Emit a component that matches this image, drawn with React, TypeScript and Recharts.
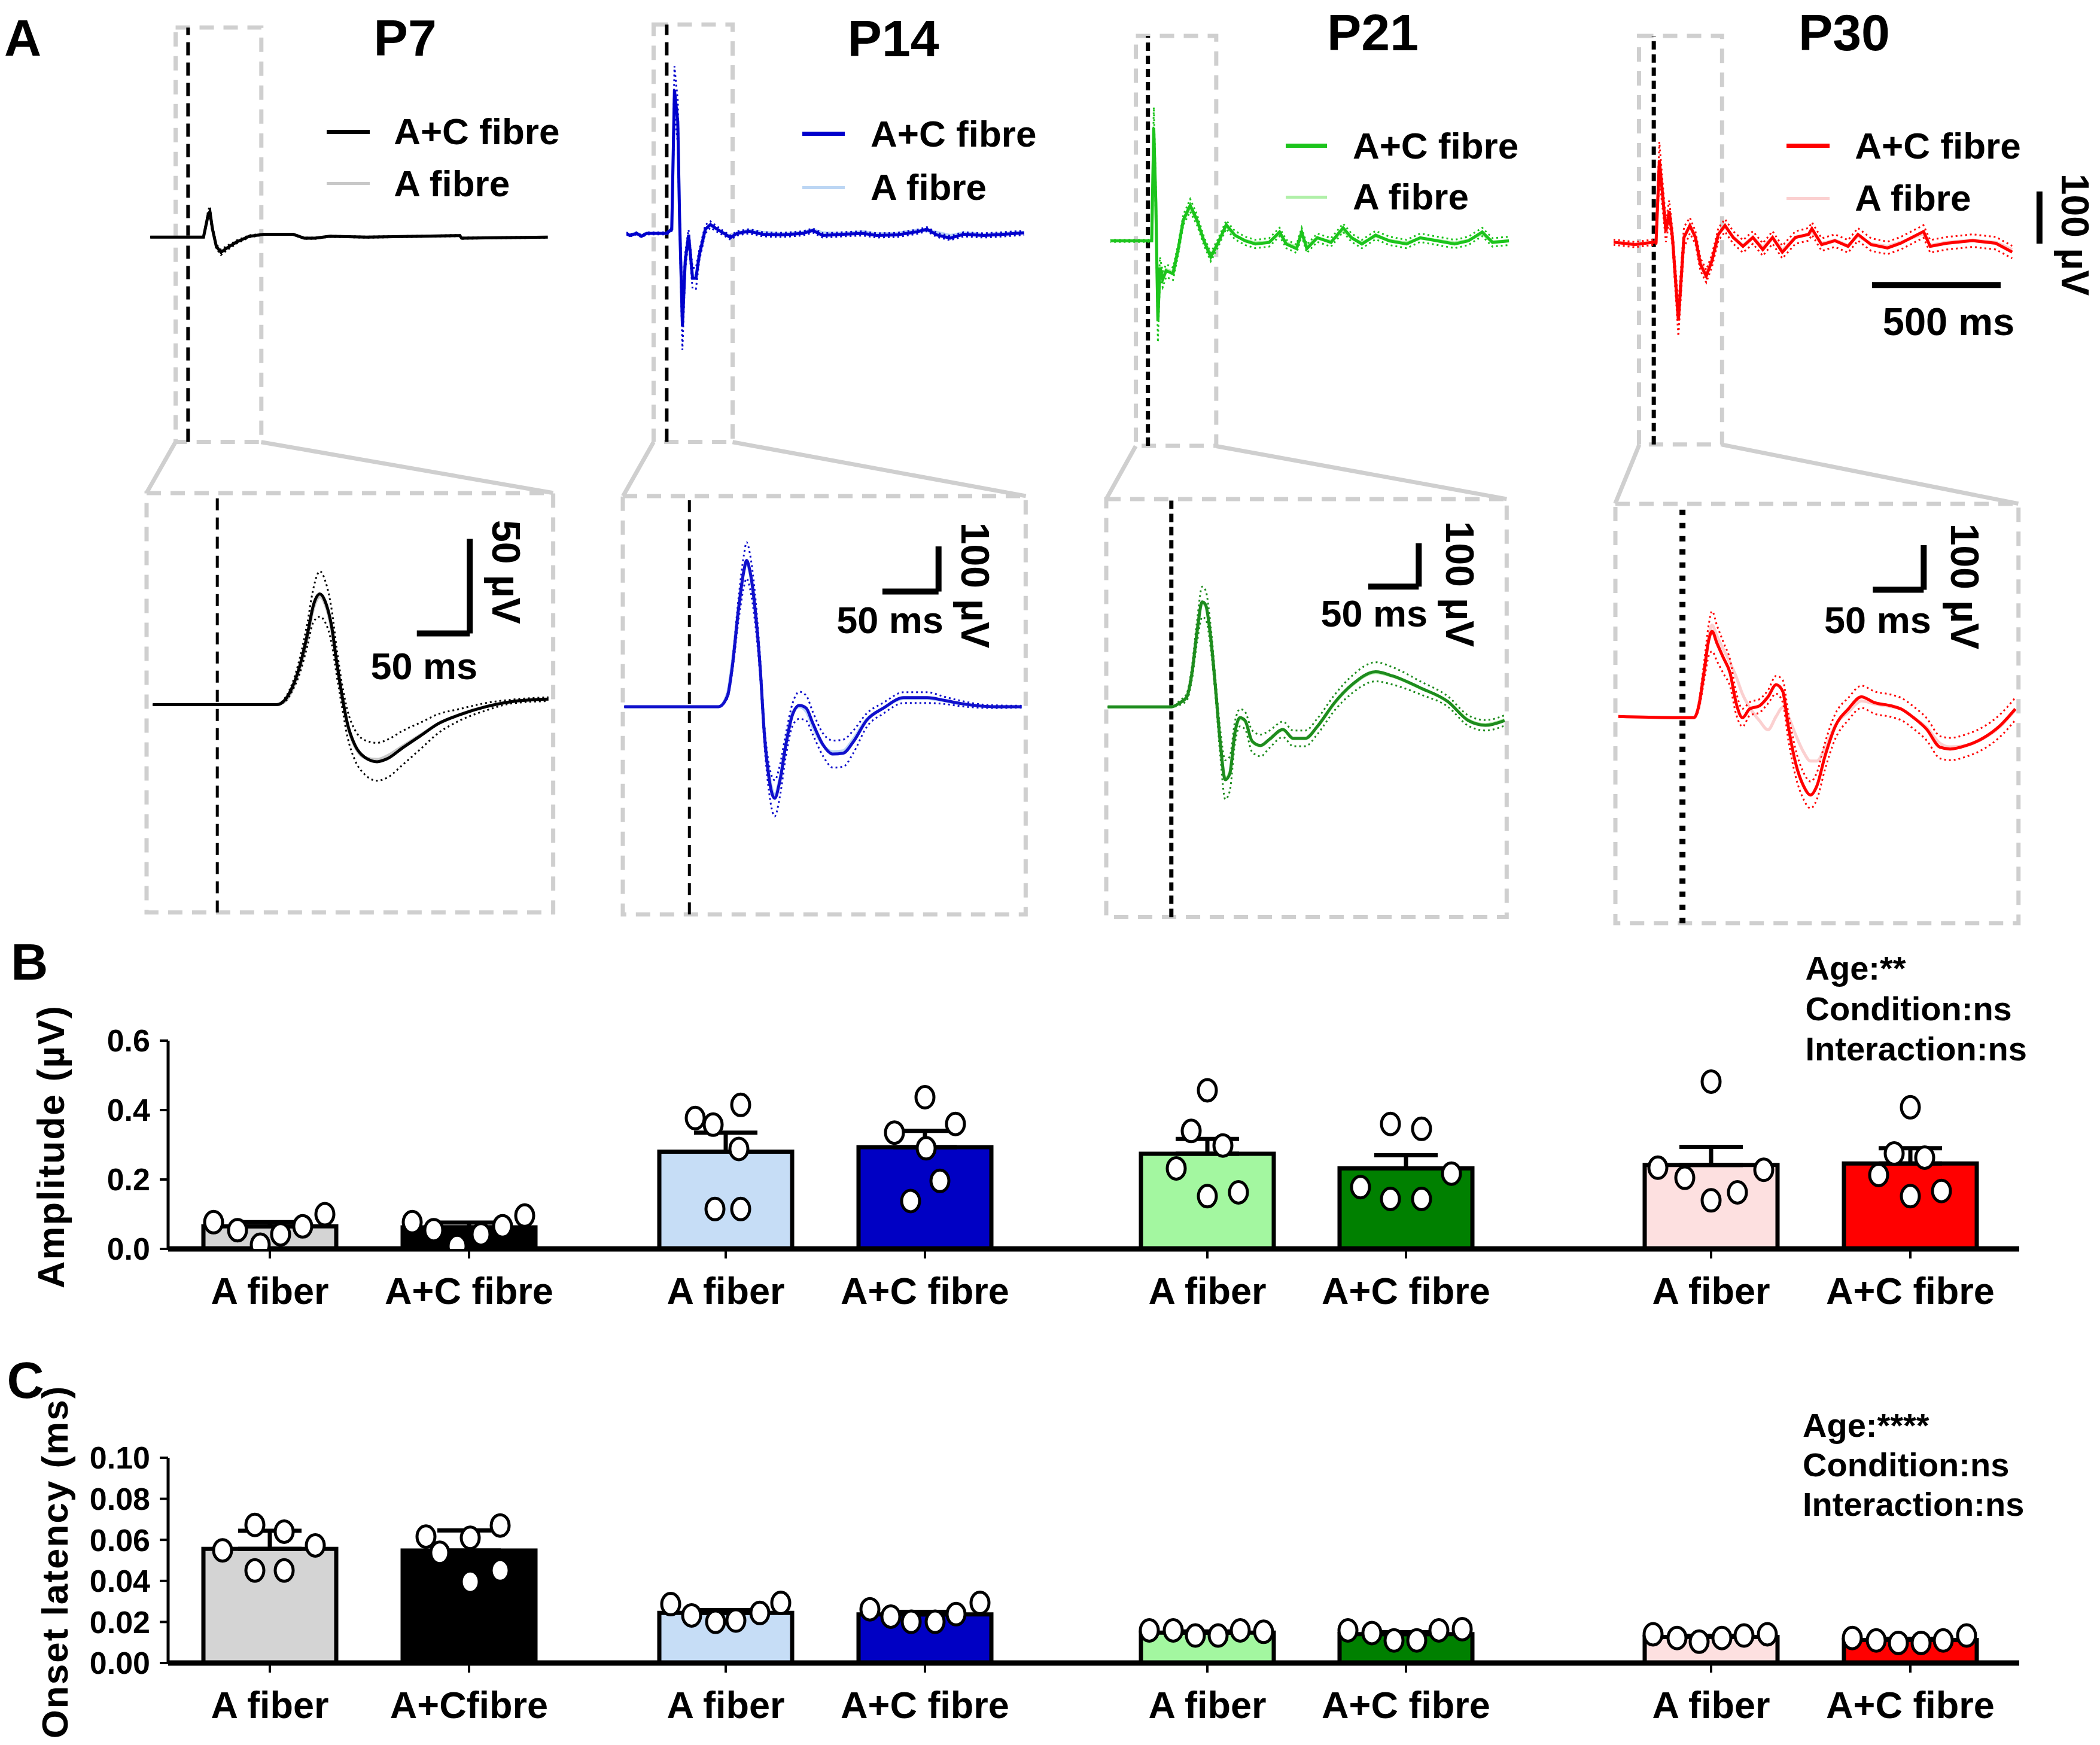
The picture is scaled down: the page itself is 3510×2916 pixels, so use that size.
import React from "react";
import {
  LineChart,
  Line,
  XAxis,
  YAxis,
  ReferenceLine,
  ReferenceArea,
  ComposedChart,
  ScatterChart,
  Bar,
  Cell,
  ErrorBar,
  Scatter,
} from "recharts";

// layout was measured on the 1568px-wide preview, scaled up here
const S = 3510 / 1568;
const FONT = '"Liberation Sans", Arial, Helvetica, sans-serif';

// ---------- A: averaged CAP traces (ms from stimulus, µV) ----------
const AGES = ["P7", "P14", "P21", "P30"];
const LEGEND = ["A+C fibre", "A fibre"];

// overview traces
const P7_TOP_T = [-147, 0, 60, 78, 85, 95, 110, 128, 152, 188, 238, 295, 409, 452, 494, 551, 694, 1057, 1064, 1399];
const P7_TOP_AC = [0, 0, 0, 43, 49, 15.5, -18, -29, -20.5, -9.4, 1.7, 5.5, 5.5, -2, -2, 1.7, 0, 3, -2, 0];
const P7_TOP_SEM = [0, 0, 0, 8, 10, 5, 4, 5, 4, 3, 2, 1, 1, 1, 1, 1, 1, 1, 1, 1];
const P7_TOP_A = [0, 0, 0, 40, 46, 14, -17, -28, -20, -9, 1.5, 5, 5, -2, -2, 1.5, 0, 3, -2, 0];

const P14_TOP_T = [-157, -144, -117, -98, -78, 0, 19.6, 30, 43, 50, 61, 72, 85, 100.5, 113.6, 126.6, 150, 170, 196, 222, 248, 274, 320, 372, 450, 529, 568, 607, 685, 764, 816, 894, 973, 1012, 1051, 1103, 1155, 1233, 1312, 1390];
const P14_TOP_AC = [0, -4, 0, -5.5, 0, 0, 8, 275, 214, 30, -178, -53, -3, -86, -86, -42, 8, 17, 8, 0, -8, 0, 4, -1.7, -3, 0, 5.5, -4, -1.7, 0, -4, -3, 3, 8, -3, -9, -1.7, -4, -1.7, 1];
const P14_TOP_SEM = [2, 2, 2, 2, 2, 2, 3, 45, 40, 20, 45, 15, 10, 20, 20, 10, 8, 6, 5, 4, 4, 4, 4, 4, 4, 4, 4, 4, 4, 4, 4, 4, 4, 4, 4, 4, 4, 4, 4, 4];
const P14_TOP_A = [0, -3, 1, -4, 0, 0, 7, 260, 205, 28, -170, -50, -2, -80, -82, -40, 7, 15, 7, 1, -6, 1, 6, 2, -1, 2, 7, 1, 0, 3, -1, 0, 6, 5, 2, -4, 1, -2, 0, 2];

const P21_TOP_T = [-150, 0, 14.7, 22.7, 30.7, 38.7, 46.7, 57.4, 70.8, 97.5, 117.5, 137.6, 164.3, 191, 217.7, 244.4, 271, 304.5, 337.9, 378, 418, 471.5, 512, 538, 578, 598, 618, 658.5, 712, 759, 792, 832, 885.5, 939, 1006, 1059, 1126, 1193, 1246, 1300, 1340, 1404];
const P21_TOP_AC = [0, 0, 0, 216, 74, -154, -51, -74, -57, -63, -17, 40, 68, 40, 0, -31, -6, 31, 11, 0, -6, -3, 17, -6, -15, 17, -15, 6, -3, 25, 6, -6, 11, 0, -6, 6, 0, -6, 0, 17, -3, 0];
const P21_TOP_SEM = [2, 2, 3, 40, 30, 40, 20, 15, 12, 12, 10, 10, 12, 10, 8, 8, 8, 8, 8, 8, 8, 8, 8, 8, 8, 8, 8, 8, 8, 8, 8, 8, 8, 8, 8, 8, 8, 8, 8, 8, 8, 8];
const P21_TOP_A = [0, 0, 0, 205, 70, -145, -48, -70, -55, -60, -15, 38, 65, 38, 1, -28, -5, 29, 10, 1, -4, -2, 14, -4, -12, 14, -12, 5, -1, 20, 5, -4, 9, 1, -4, 5, 1, -4, 1, 14, -2, 0];

const P30_TOP_T = [-157, -74, 0, 9, 21.7, 34.5, 47.2, 60, 72.7, 95.7, 117.4, 140.4, 162, 181, 204, 226, 251, 277, 309, 347, 385.5, 424, 462, 500, 551, 602, 615, 653, 704.5, 755.6, 794, 845, 909, 960, 1049, 1075, 1138.5, 1240.6, 1330, 1394];
const P30_TOP_AC = [0, -4.6, 0, 0, 157, 89, 20.5, 60, 9, -150, 9, 32, 9, -42, -65, -36, 15, 32, 9, -8, 9, -14, 9, -19, 9, 15, 26, -4.6, 3, -8, 15, -4.6, -11, -2, 20.5, -8, -2, 3, -2, -19];
const P30_TOP_SEM = [5, 5, 5, 5, 35, 25, 20, 20, 15, 30, 20, 15, 12, 12, 12, 12, 12, 12, 12, 12, 12, 12, 12, 12, 12, 12, 12, 12, 12, 12, 12, 12, 12, 12, 12, 12, 12, 12, 12, 12];
const P30_TOP_A = [0, -3, 0, 1, 150, 92, 25, 55, 12, -140, 12, 30, 12, -38, -60, -33, 14, 30, 10, -6, 10, -10, 10, -15, 10, 14, 20, -2, 4, -6, 12, -3, -8, 0, 16, -6, 0, 4, 0, -14];

// zoomed traces
const P7_LOW_T = [-61, 0, 56, 64.5, 71, 78, 85, 91, 97, 102, 108, 113, 118, 123, 130, 139, 151, 161, 175, 192, 209, 230, 254, 278, 313];
const P7_LOW_AC = [0, 0, 0, 2.9, 9.4, 20.6, 36.8, 52.9, 58.5, 54.5, 41.6, 22, 4.5, -10, -21.3, -27.7, -30.2, -28.5, -22.9, -16.5, -10, -5.2, -1.1, 1.6, 2.9];
const P7_LOW_SEM = [0, 0, 0, 1, 2, 4, 6, 9, 12, 11, 9, 7, 6, 7, 8, 9, 10, 10, 9, 7, 5, 3, 2, 1, 1];
const P7_LOW_A = [0, 0, 0, 2, 8, 19, 35, 51, 57, 53, 40, 21, 4, -11, -22, -28, -29, -27, -22, -16, -10, -5, -1, 1.5, 2.9];

const P14_LOW_T = [-58, 0, 26, 34, 38, 44, 48.5, 51, 54, 59, 63.5, 66.5, 71, 76, 80.5, 86, 92, 98, 104, 110, 119, 128, 137, 146, 158, 173, 191, 212, 227, 242, 257, 272, 296];
const P14_LOW_AC = [0, 0, 0, 24, 84, 220, 300, 324, 300, 206, 71, -51, -159, -203, -166, -84, -17, 3, -3, -37, -84, -105, -103, -78, -30, -3, 20, 20, 14, 7, 2, 0, 0];
const P14_LOW_SEM = [0, 0, 0, 5, 10, 25, 35, 40, 38, 30, 20, 20, 30, 40, 35, 25, 25, 30, 28, 25, 25, 30, 30, 25, 15, 12, 12, 12, 8, 6, 4, 3, 2];
const P14_LOW_A = [0, 0, 0, 30, 95, 225, 300, 318, 295, 200, 70, -45, -150, -195, -160, -80, -12, 0, -10, -45, -85, -100, -98, -72, -28, -3, 18, 18, 13, 6, 2, 0, 0];

const P21_LOW_T = [-63, 0, 8.5, 15.3, 20.4, 25.5, 30.6, 34, 39, 44, 48.6, 53.4, 57.8, 63, 68, 73, 80, 88.4, 97, 110.5, 120.7, 132.7, 144.6, 161.6, 178.6, 202.4, 219.4, 246.6, 273.8, 294, 311, 330];
const P21_LOW_AC = [0, 0, 9.6, 23, 78, 174, 242, 235, 160, 37, -86, -168, -155, -59, -25, -31.5, -79, -89, -75, -52, -72.6, -72.6, -45, 9.6, 50.7, 80.8, 71, 43.8, 12.3, -31.5, -42.5, -31.5];
const P21_LOW_SEM = [0, 0, 5, 8, 15, 25, 35, 33, 25, 20, 30, 45, 40, 25, 20, 20, 25, 25, 20, 18, 18, 18, 18, 18, 20, 22, 20, 15, 12, 12, 12, 12];
const P21_LOW_A = [0, 0, 9, 22, 75, 170, 240, 232, 158, 36, -85, -165, -152, -60, -27, -33, -80, -90, -76, -53, -73, -73, -46, 8, 49, 79, 70, 43, 12, -30, -41, -30];

const P30_LOW_T = [-63, 0, 11.3, 16, 21, 25.8, 29, 33.9, 40.3, 46.8, 52.6, 59, 66, 75.8, 84, 92, 98.4, 104, 111, 119, 125.8, 132, 140, 150, 163, 175.8, 188.7, 204.8, 214.5, 227, 240, 253, 262.9, 279, 295, 311, 327];
const P30_LOW_AC = [0, -2.7, -2.7, 24, 97, 171, 191, 164, 131, 97, 31, -2.7, 17, 24, 44, 71, 57, -22.7, -103, -156, -176, -156, -89, -22.7, 17, 44, 31, 24, 17, -2.7, -29, -69, -73, -65, -49, -22.7, 17];
const P30_LOW_SEM = [0, 0, 0, 8, 20, 35, 45, 40, 35, 30, 25, 20, 15, 15, 15, 20, 25, 30, 30, 30, 30, 30, 30, 28, 25, 25, 25, 25, 25, 25, 25, 25, 25, 25, 25, 25, 25];
const P30_LOW_A = [0, -2.7, -2.7, 20, 90, 175, 205, 180, 150, 120, 90, 50, 20, -10, -30, 0, 20, 0, -40, -80, -100, -100, -70, -20, 10, 35, 28, 22, 17, -2, -25, -60, -68, -65, -50, -25, 15];

// ---------- B / C: group data ----------
const AMP_LABELS = ["A fiber", "A+C fibre", "A fiber", "A+C fibre", "A fiber", "A+C fibre", "A fiber", "A+C fibre"];
const LAT_LABELS = ["A fiber", "A+Cfibre", "A fiber", "A+C fibre", "A fiber", "A+C fibre", "A fiber", "A+C fibre"];
const AMP_MEAN = [0.065, 0.062, 0.28, 0.293, 0.274, 0.232, 0.242, 0.246];
const AMP_SEM = [0.012, 0.014, 0.055, 0.047, 0.043, 0.038, 0.052, 0.044];
const AMP_DOTS = [
  [0.077, 0.054, 0.012, 0.042, 0.065, 0.1],
  [0.077, 0.054, 0.008, 0.042, 0.065, 0.096],
  [0.377, 0.358, 0.415, 0.288, 0.115, 0.115],
  [0.437, 0.36, 0.335, 0.29, 0.196, 0.138],
  [0.457, 0.34, 0.298, 0.232, 0.152, 0.163],
  [0.36, 0.346, 0.217, 0.178, 0.144, 0.144],
  [0.482, 0.234, 0.205, 0.228, 0.163, 0.14],
  [0.408, 0.275, 0.263, 0.213, 0.167, 0.152],
];
const LAT_MEAN = [0.0556, 0.0548, 0.0244, 0.0237, 0.0148, 0.0141, 0.0127, 0.0112];
const LAT_SEM = [0.0088, 0.0098, 0.0014, 0.0012, 0.0006, 0.0009, 0.0006, 0.0006];
const LAT_DOTS = [
  [0.0549, 0.0673, 0.064, 0.0573, 0.0451, 0.0451],
  [0.0616, 0.061, 0.067, 0.0537, 0.0451, 0.0396],
  [0.0287, 0.0232, 0.0201, 0.0207, 0.0244, 0.0293],
  [0.0262, 0.0226, 0.0201, 0.0201, 0.0238, 0.0293],
  [0.0159, 0.0159, 0.0134, 0.0134, 0.0159, 0.0152],
  [0.0159, 0.0146, 0.011, 0.011, 0.0159, 0.0165],
  [0.014, 0.0122, 0.0104, 0.0122, 0.0134, 0.014],
  [0.0122, 0.011, 0.0098, 0.0098, 0.011, 0.0134],
];
const AMP_STATS = ["Age:**", "Condition:ns", "Interaction:ns"];
const LAT_STATS = ["Age:****", "Condition:ns", "Interaction:ns"];

// ---------- styling / layout ----------
const AC_TOP = ["#000000", "#0000cc", "#1cc41c", "#ff0000"];
const AC_LOW = ["#000000", "#1010cc", "#1e8c1e", "#ff0000"];
const A_COL = ["#c8c8c8", "#bcd6f4", "#b0f0a8", "#fbd0d0"];
const BAR_FILL = ["#d4d4d4", "#000000", "#c6ddf6", "#0000c4", "#a3f7a0", "#008000", "#fde0e0", "#ff0000"];
const BAR_POS = [170, 503, 932, 1265, 1737, 2069, 2579, 2912];
const AMP_JIT = [
  [-94, -54, -16, 18, 55, 92],
  [-95, -59, -20, 20, 56, 93],
  [-51, -21, 25, 22, -18, 25],
  [0, 51, -51, 2, 25, -24],
  [0, -27, 26, -52, 0, 52],
  [-26, 26, 76, -76, -26, 26],
  [0, -89, -44, 88, 44, 0],
  [0, -27, 24, -53, 52, 0],
];
const LAT_JIT = [
  [-79, -25, 24, 76, -25, 24],
  [-72, 2, 52, -49, 52, 2],
  [-92, -57, -17, 17, 57, 92],
  [-92, -57, -23, 17, 52, 92],
  [-97, -57, -20, 18, 55, 94],
  [-97, -57, -20, 18, 55, 94],
  [-97, -57, -20, 18, 55, 94],
  [-97, -57, -20, 18, 55, 94],
];

const TOP = [
  { g: { left: 112, right: 409.6, top: 20.6, bottom: 330, x0: 140.3, y0: 177.1, pxMs: 0.192, pxUv: 0.39 }, box: [131, 195], t: P7_TOP_T, ac: P7_TOP_AC, sem: P7_TOP_SEM, a: P7_TOP_A, dash: "22 12", dw: 6, bars: [] },
  { g: { left: 467.7, right: 764.8, top: 18.4, bottom: 330, x0: 497.8, y0: 174.3, pxMs: 0.192, pxUv: 0.39 }, box: [488, 547], t: P14_TOP_T, ac: P14_TOP_AC, sem: P14_TOP_SEM, a: P14_TOP_A, dash: "22 12", dw: 6, bars: [] },
  { g: { left: 829, right: 1127, top: 27, bottom: 333, x0: 857, y0: 180, pxMs: 0.192, pxUv: 0.39 }, box: [848, 908], t: P21_TOP_T, ac: P21_TOP_AC, sem: P21_TOP_SEM, a: P21_TOP_A, dash: "14 8", dw: 7, bars: [] },
  { g: { left: 1205, right: 1535, top: 27, bottom: 332, x0: 1235, y0: 181, pxMs: 0.192, pxUv: 0.39 }, box: [1224, 1286], t: P30_TOP_T, ac: P30_TOP_AC, sem: P30_TOP_SEM, a: P30_TOP_A, dash: "14 8", dw: 7, bars: [[849, -82, 1349, -82], [1500, -3, 1500, 97]] },
];
const LOW = [
  { g: { left: 109.4, right: 413, top: 368, bottom: 681, x0: 162.2, y0: 525.9, pxMs: 0.79, pxUv: 1.412 }, t: P7_LOW_T, ac: P7_LOW_AC, sem: P7_LOW_SEM, a: P7_LOW_A, dash: "20 12", dw: 5, bars: [[188.6, 37.6, 238.6, 37.6], [238.6, 37.6, 238.6, 87.6]] },
  { g: { left: 465.2, right: 766, top: 370.3, bottom: 682.6, x0: 514.9, y0: 527.5, pxMs: 0.838, pxUv: 0.337 }, t: P14_LOW_T, ac: P14_LOW_AC, sem: P14_LOW_SEM, a: P14_LOW_A, dash: "20 12", dw: 5, bars: [[172, 255, 222, 255], [222, 255, 222, 355]] },
  { g: { left: 826, right: 1125, top: 372.5, bottom: 684.5, x0: 874.6, y0: 527.6, pxMs: 0.754, pxUv: 0.324 }, t: P21_LOW_T, ac: P21_LOW_AC, sem: P21_LOW_SEM, a: P21_LOW_A, dash: "14 8", dw: 7, bars: [[195, 277, 245, 277], [245, 277, 245, 377]] },
  { g: { left: 1206, right: 1507, top: 376, bottom: 689, x0: 1256.1, y0: 534.7, pxMs: 0.76, pxUv: 0.333 }, t: P30_LOW_T, ac: P30_LOW_AC, sem: P30_LOW_SEM, a: P30_LOW_A, dash: "9 13", dw: 10, bars: [[187, 284, 237, 284], [237, 284, 237, 384]] },
];
const TITLE_POS = [[302.5, 28], [667, 28.5], [1025, 24], [1377, 24]];
const LEGEND_POS = [
  { x1: 244, x2: 276, y: [98.5, 137], tx: 294 },
  { x1: 599, x2: 631, y: [100, 140], tx: 650 },
  { x1: 960, x2: 991, y: [109, 147], tx: 1010 },
  { x1: 1334, x2: 1366, y: [109, 148], tx: 1385 },
];
const LOW_LABELS = [
  { ms: [316.6, 497], uv: [378, 427], uvText: "50 µV" },
  { ms: [664.5, 463], uv: [728, 437], uvText: "100 µV" },
  { ms: [1026, 458], uv: [1090, 436], uvText: "100 µV" },
  { ms: [1402, 463], uv: [1467, 438], uvText: "100 µV" },
];

// bar chart frame (full-size px)
const PLOT_LEFT = 281;
const PLOT_W = 3094;
const CHART_W = 3470;
const Y_AXIS_W = 150;
const X_AXIS_H = 110;

type G = { left: number; right: number; top: number; bottom: number; x0: number; y0: number; pxMs: number; pxUv: number };

function Trace({ g, box, t, ac, sem, a, color, light, dash, dw, bars, lw, smooth }: any) {
  const gg = g as G;
  const m = 14;
  const W = (gg.right - gg.left) * S;
  const H = (gg.bottom - gg.top) * S;
  const xd: [number, number] = [(gg.left - gg.x0) / gg.pxMs, (gg.right - gg.x0) / gg.pxMs];
  const yd: [number, number] = [(gg.y0 - gg.bottom) / gg.pxUv, (gg.y0 - gg.top) / gg.pxUv];
  const bx = box ? [(box[0] - gg.x0) / gg.pxMs, (box[1] - gg.x0) / gg.pxMs] : xd;
  const data = t.map((v: number, i: number) => ({ t: v, ac: ac[i], hi: ac[i] + sem[i], lo: ac[i] - sem[i], a: a[i] }));
  const curve = smooth ? "monotone" : "linear";
  return (
    <div style={{ position: "absolute", left: gg.left * S - m, top: gg.top * S - m }}>
      <LineChart width={W + 2 * m} height={H + 2 * m} data={data} margin={{ top: m, right: m, bottom: m, left: m }}>
        <XAxis type="number" dataKey="t" domain={xd} allowDataOverflow hide height={0} />
        <YAxis type="number" domain={yd} allowDataOverflow hide width={0} />
        <ReferenceArea x1={bx[0]} x2={bx[1]} y1={yd[0]} y2={yd[1]} fill="none" fillOpacity={0} stroke="#cfcfcf" strokeWidth={7} strokeDasharray="24 16" ifOverflow="visible" />
        <ReferenceLine x={0} stroke="#000" strokeWidth={dw} strokeDasharray={dash} ifOverflow="visible" />
        <Line type={curve} dataKey="a" stroke={light} strokeWidth={lw} dot={false} isAnimationActive={false} />
        <Line type={curve} dataKey="hi" stroke={color} strokeWidth={3} strokeDasharray="3 5" dot={false} isAnimationActive={false} />
        <Line type={curve} dataKey="lo" stroke={color} strokeWidth={3} strokeDasharray="3 5" dot={false} isAnimationActive={false} />
        <Line type={curve} dataKey="ac" stroke={color} strokeWidth={lw} dot={false} isAnimationActive={false} />
        {bars.map((b: number[], i: number) => (
          <ReferenceLine key={i} segment={[{ x: b[0], y: b[1] }, { x: b[2], y: b[3] }]} stroke="#000" strokeWidth={10} ifOverflow="visible" />
        ))}
      </LineChart>
    </div>
  );
}

const Dot = (p: any) => <ellipse cx={p.cx} cy={p.cy} rx={15} ry={18} fill="#fff" stroke="#000" strokeWidth={5} />;

function BarPanel({ top, plotTop, plotH, labels, mean, sem, dots, jit, domain, ticks, digits }: any) {
  const rows = BAR_POS.map((p, i) => ({ pos: p, mean: mean[i], err: [0, sem[i]] }));
  const pts = dots.flatMap((ds: number[], i: number) => ds.map((v, j) => ({ pos: BAR_POS[i] + jit[i][j], val: v })));
  const mt = plotTop - top;
  const h = mt + plotH + X_AXIS_H + 10;
  const mr = CHART_W - PLOT_LEFT - PLOT_W;
  return (
    <>
      <div style={{ position: "absolute", left: 0, top }}>
        <ComposedChart width={CHART_W} height={h} data={rows} margin={{ top: mt, right: mr, bottom: 10, left: PLOT_LEFT - Y_AXIS_W }}>
          <XAxis
            type="number"
            dataKey="pos"
            domain={[0, PLOT_W]}
            ticks={BAR_POS}
            interval={0}
            height={X_AXIS_H}
            allowDataOverflow
            tickFormatter={(v: number) => labels[BAR_POS.indexOf(v)]}
            tick={{ fontSize: 63, fontWeight: 700, fill: "#000" }}
            tickSize={16}
            tickMargin={31}
            tickLine={{ stroke: "#000", strokeWidth: 4 }}
            axisLine={{ stroke: "#000", strokeWidth: 9 }}
          />
          <YAxis
            type="number"
            width={Y_AXIS_W}
            domain={domain}
            ticks={ticks}
            interval={0}
            allowDataOverflow
            tickFormatter={(v: number) => v.toFixed(digits)}
            tick={{ fontSize: 52, fontWeight: 700, fill: "#000" }}
            tickSize={14}
            tickMargin={16}
            tickLine={{ stroke: "#000", strokeWidth: 4 }}
            axisLine={{ stroke: "#000", strokeWidth: 5 }}
          />
          <Bar dataKey="mean" barSize={222} stroke="#000" strokeWidth={7} isAnimationActive={false}>
            {rows.map((r, i) => (
              <Cell key={i} fill={BAR_FILL[i]} />
            ))}
            <ErrorBar dataKey="err" width={53} stroke="#000" strokeWidth={7} direction="y" />
          </Bar>
        </ComposedChart>
      </div>
      {/* individual animals, drawn on the same frame */}
      <div style={{ position: "absolute", left: 0, top }}>
        <ScatterChart width={CHART_W} height={h} margin={{ top: mt, right: mr, bottom: 10 + X_AXIS_H, left: PLOT_LEFT }}>
          <XAxis type="number" dataKey="pos" domain={[0, PLOT_W]} allowDataOverflow hide height={0} />
          <YAxis type="number" domain={domain} allowDataOverflow hide width={0} />
          <Scatter data={pts} dataKey="val" isAnimationActive={false} shape={Dot} />
        </ScatterChart>
      </div>
    </>
  );
}

function Txt({ x, y, size, rot = 0, left = false, lh = 1, children }: any) {
  return (
    <div
      style={{
        position: "absolute",
        left: x * S,
        top: y * S,
        fontSize: size,
        lineHeight: lh,
        whiteSpace: "nowrap",
        transform: left ? "translateY(-50%)" : `translate(-50%,-50%) rotate(${rot}deg)`,
      }}
    >
      {children}
    </div>
  );
}

export default function App() {
  return (
    <div
      style={{
        position: "absolute",
        left: 0,
        top: 0,
        width: 3510,
        height: 2916,
        background: "#fff",
        overflow: "hidden",
        fontFamily: FONT,
        fontWeight: 700,
        color: "#000",
      }}
    >
      {/* zoom connectors between overview box and zoomed box */}
      <svg width={3510} height={2916} style={{ position: "absolute", left: 0, top: 0 }}>
        {TOP.map((c, i) => {
          const lo = LOW[i].g;
          return (
            <g key={i} stroke="#cfcfcf" strokeWidth={7} fill="none">
              <line x1={c.box[0] * S} y1={c.g.bottom * S} x2={lo.left * S} y2={lo.top * S} />
              <line x1={c.box[1] * S} y1={c.g.bottom * S} x2={lo.right * S} y2={lo.top * S} />
            </g>
          );
        })}
      </svg>

      {TOP.map((c, i) => (
        <Trace key={"t" + i} {...c} color={AC_TOP[i]} light={A_COL[i]} lw={5} smooth={false} />
      ))}
      {LOW.map((c, i) => (
        <Trace key={"l" + i} {...c} box={null} color={AC_LOW[i]} light={A_COL[i]} lw={5} smooth />
      ))}

      <Txt x={17} y={28} size={86} lh={0.8}>A</Txt>
      <Txt x={22} y={718} size={86} lh={0.8}>B</Txt>
      <Txt x={19} y={1030} size={86} lh={0.8}>C</Txt>

      {AGES.map((age, i) => (
        <Txt key={age} x={TITLE_POS[i][0]} y={TITLE_POS[i][1]} size={86} lh={0.8}>
          {age}
        </Txt>
      ))}

      {LEGEND_POS.map((l, i) => (
        <React.Fragment key={"lg" + i}>
          {LEGEND.map((name, k) => (
            <React.Fragment key={name}>
              <div
                style={{
                  position: "absolute",
                  left: l.x1 * S,
                  top: l.y[k] * S - (k === 0 ? 3.5 : 2.5),
                  width: (l.x2 - l.x1) * S,
                  height: k === 0 ? 7 : 5,
                  background: k === 0 ? AC_TOP[i] : A_COL[i],
                }}
              />
              <Txt x={l.tx} y={l.y[k]} size={62} left>
                {name}
              </Txt>
            </React.Fragment>
          ))}
        </React.Fragment>
      ))}

      {LOW_LABELS.map((l, i) => (
        <React.Fragment key={"sb" + i}>
          <Txt x={l.ms[0]} y={l.ms[1]} size={63}>50 ms</Txt>
          <Txt x={l.uv[0]} y={l.uv[1]} size={66} rot={90}>{l.uvText}</Txt>
        </React.Fragment>
      ))}
      <Txt x={1455} y={240} size={65}>500 ms</Txt>
      <Txt x={1549} y={175} size={64} rot={90} lh={0.9}>100 µV</Txt>

      <Txt x={38} y={856} size={63} rot={-90}>
        <span style={{ letterSpacing: 2 }}>Amplitude (µV)</span>
      </Txt>
      <Txt x={41} y={1166} size={62} rot={-90}>
        <span style={{ letterSpacing: 2 }}>Onset latency (ms)</span>
      </Txt>

      {AMP_STATS.map((s, i) => (
        <Txt key={s} x={1348} y={723 + 30 * i} size={56} left>
          {s}
        </Txt>
      ))}
      {LAT_STATS.map((s, i) => (
        <Txt key={s} x={1346} y={1064 + 29.5 * i} size={56} left>
          {s}
        </Txt>
      ))}

      <BarPanel
        top={1690}
        plotTop={1739}
        plotH={348}
        labels={AMP_LABELS}
        mean={AMP_MEAN}
        sem={AMP_SEM}
        dots={AMP_DOTS}
        jit={AMP_JIT}
        domain={[0, 0.6]}
        ticks={[0, 0.2, 0.4, 0.6]}
        digits={1}
      />
      <BarPanel
        top={2380}
        plotTop={2436}
        plotH={343}
        labels={LAT_LABELS}
        mean={LAT_MEAN}
        sem={LAT_SEM}
        dots={LAT_DOTS}
        jit={LAT_JIT}
        domain={[0, 0.1]}
        ticks={[0, 0.02, 0.04, 0.06, 0.08, 0.1]}
        digits={2}
      />
    </div>
  );
}
